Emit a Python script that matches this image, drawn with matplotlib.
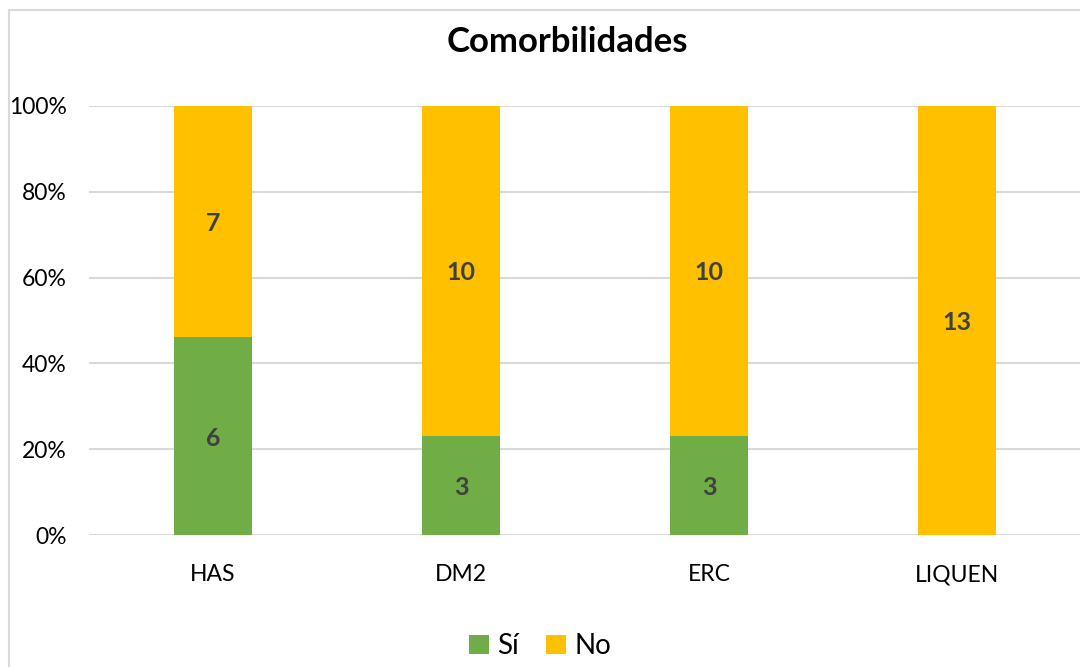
import matplotlib.pyplot as plt
from matplotlib.lines import Line2D
from matplotlib.ticker import PercentFormatter
import numpy as np

plt.rcParams['font.family'] = ['Lato', 'DejaVu Sans']

categories = ['HAS', 'DM2', 'ERC', 'LIQUEN']
si = [6, 3, 3, 0]
no = [7, 10, 10, 13]

green = '#70ad47'
yellow = '#ffc000'

si_arr = np.array(si, dtype=float)
no_arr = np.array(no, dtype=float)
total = si_arr + no_arr
si_pct = si_arr / total
no_pct = no_arr / total

fig = plt.figure(figsize=(10.8, 6.67), dpi=100)
ax = fig.add_axes([89 / 1080, (667 - 535) / 667, 992 / 1080, (535 - 106) / 667])

x = np.arange(len(categories))
w = 0.315
ax.bar(x, si_pct, w, color=green, label='Sí', zorder=3)
ax.bar(x, no_pct, w, bottom=si_pct, color=yellow, label='No', zorder=3)

for i in range(len(categories)):
    if si[i] > 0:
        ax.text(x[i], si_pct[i] / 2, str(si[i]), ha='center', va='center_baseline',
                fontsize=18, fontweight='bold', color='#404040', zorder=4)
    if no[i] > 0:
        ax.text(x[i], si_pct[i] + no_pct[i] / 2, str(no[i]), ha='center', va='center_baseline',
                fontsize=18, fontweight='bold', color='#404040', zorder=4)

ax.set_xlim(-0.5, len(categories) - 0.5)
ax.set_ylim(0, 1)
ax.set_yticks(np.linspace(0, 1, 6))
ax.yaxis.set_major_formatter(PercentFormatter(1.0, decimals=0))
ax.set_xticks(x)
ax.set_xticklabels(categories)
ax.tick_params(axis='both', length=0, labelsize=16.5, colors='#000000')
ax.tick_params(axis='x', pad=21)
ax.tick_params(axis='y', pad=16)
ax.grid(axis='y', color='#d9d9d9', linewidth=1.5, zorder=0)
for s in ax.spines.values():
    s.set_visible(False)

fig.text(567 / 1080, 1 - 42 / 667, 'Comorbilidades', ha='center', va='center',
         fontsize=25, fontweight='bold')

fig.legend(loc='center', bbox_to_anchor=(540 / 1080, 1 - 646 / 667), ncol=2,
           frameon=False, fontsize=20, handlelength=0.7, handleheight=0.7,
           handletextpad=0.3, columnspacing=1.0)

# chart area border
fig.add_artist(Line2D([9 / 1080, 9 / 1080], [0, 1 - 10 / 667], color='#d9d9d9', lw=1.5))
fig.add_artist(Line2D([9 / 1080, 1], [1 - 10 / 667, 1 - 10 / 667], color='#d9d9d9', lw=1.5))

fig.savefig('out.png', dpi=100)
